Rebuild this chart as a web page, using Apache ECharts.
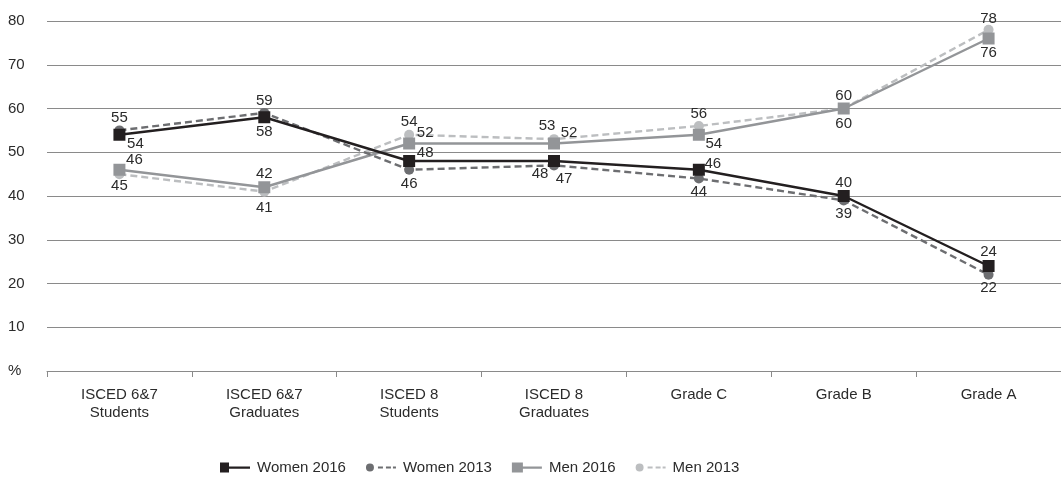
<!DOCTYPE html>
<html>
<head>
<meta charset="utf-8">
<script src="https://cdn.jsdelivr.net/npm/echarts@6/dist/echarts.min.js"></script>
<style>
html,body{margin:0;padding:0;background:#fff;}
#c{width:1061px;height:485px;}
</style>
</head>
<body>
<div id="c"></div>
<script>
const categories = ['ISCED 6&7\nStudents','ISCED 6&7\nGraduates','ISCED 8\nStudents','ISCED 8\nGraduates','Grade C','Grade B','Grade A'];
const yTicks = [0,10,20,30,40,50,60,70,80];
const women2016 = [54,58,48,48,46,40,24];
const women2013 = [55,59,46,47,44,39,22];
const men2016 = [46,42,52,52,54,60,76];
const men2013 = [45,41,54,53,56,60,78];

// label offsets (px) relative to marker centre
const offW16 = [[16,9],[0,15],[16,-8],[-14,13],[14,-6],[0,-13],[0,-14]];
const offW13 = [[0,-13],[0,-12],[0,14],[10,13],[0,13],[0,13],[0,13]];
const offM16 = [[15,-10],[0,-13],[16,-11],[15,-11],[15,9],[0,15],[0,14]];
const offM13 = [[0,12],[0,16],[0,-13],[-7,-13],[0,-12],[0,-13],[0,-11]];

const FONT = "'Liberation Sans', Arial, Helvetica, sans-serif";
const TXT = '#2b2b2b';

function mk(vals, offs){
  return vals.map((v,i)=>({value:v,label:{offset:offs[i]}}));
}
function series(name, vals, offs, color, symbol, size, dashed, z){
  return {
    name, type:'line', data: mk(vals, offs), z,
    symbol, symbolSize:size,
    itemStyle:{color},
    lineStyle:{color, width:2.4, type: dashed ? [7,4] : 'solid'},
    label:{show:true, position:'inside', color:TXT, fontSize:15, fontFamily:FONT},
    emphasis:{disabled:true}
  };
}
const chart = echarts.init(document.getElementById('c'));
chart.setOption({
  animation:false,
  grid:{left:47, right:-5, top:21, bottom:114},
  textStyle:{fontFamily:FONT},
  xAxis:{
    type:'category', data:categories, boundaryGap:true,
    axisLine:{lineStyle:{color:'#8a8a8a', width:1}},
    axisTick:{show:true, length:6, lineStyle:{color:'#8a8a8a'}},
    axisLabel:{color:TXT, fontSize:15, fontFamily:FONT, lineHeight:18, margin:15, interval:0}
  },
  yAxis:{
    type:'value', min:yTicks[0], max:yTicks[yTicks.length-1], interval:10,
    axisLine:{show:false}, axisTick:{show:false},
    splitLine:{lineStyle:{color:'#8a8a8a', width:1}},
    axisLabel:{color:TXT, fontSize:15, fontFamily:FONT, align:'left', margin:39,
      formatter: v => v===0 ? '%' : String(v)}
  },
  legend:{
    bottom:5, left:215, itemWidth:30, itemHeight:10, itemGap:20,
    textStyle:{color:TXT, fontSize:15, fontFamily:FONT, padding:[0,0,0,2]},
    data:[
      {name:'Women 2016', icon:'path://M0,0H9V10H0Z M9,4H30V6.2H9Z', itemStyle:{color:'#231f20'}},
      {name:'Women 2013', icon:'path://M0,5A4,4 0 1,0 8,5A4,4 0 1,0 0,5Z M12,4H17V6H12Z M20,4H25V6H20Z M27,4H30V6H27Z', itemStyle:{color:'#6d6e71'}},
      {name:'Men 2016', icon:'path://M0,0H11V10H0Z M11,4H30V6.2H11Z', itemStyle:{color:'#939598'}},
      {name:'Men 2013', icon:'path://M0,5A4,4 0 1,0 8,5A4,4 0 1,0 0,5Z M12,4H17V6H12Z M20,4H25V6H20Z M27,4H30V6H27Z', itemStyle:{color:'#bcbec0'}}
    ]
  },
  series:[
    series('Women 2016', women2016, offW16, '#231f20', 'rect', 12, false, 5),
    series('Women 2013', women2013, offW13, '#6d6e71', 'circle', 10, true, 4),
    series('Men 2016', men2016, offM16, '#939598', 'rect', 12, false, 3),
    series('Men 2013', men2013, offM13, '#bcbec0', 'circle', 10, true, 2)
  ]
});
</script>
</body>
</html>
